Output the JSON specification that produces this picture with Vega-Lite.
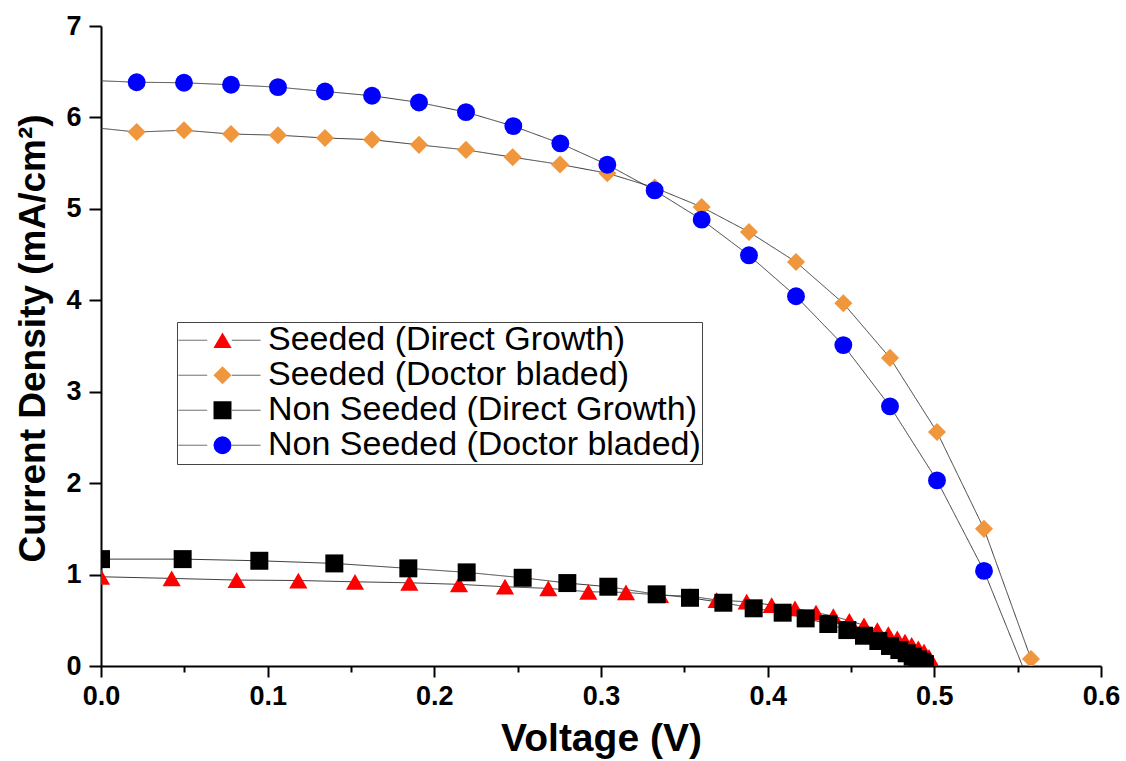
{
  "$schema": "https://vega.github.io/schema/vega-lite/v6.json",
  "width": 1000,
  "height": 640,
  "autosize": {"type": "none"},
  "padding": {"left": 101, "top": 26, "right": 25, "bottom": 95},
  "background": "white",
  "config": {"view": {"stroke": null}, "font": "Liberation Sans"},
  "data": {"values": [
    {"s": "Seeded (Direct Growth)", "v": 0.0, "j": 0.976},
    {"s": "Seeded (Direct Growth)", "v": 0.0424, "j": 0.958},
    {"s": "Seeded (Direct Growth)", "v": 0.0814, "j": 0.94},
    {"s": "Seeded (Direct Growth)", "v": 0.1184, "j": 0.935},
    {"s": "Seeded (Direct Growth)", "v": 0.1524, "j": 0.921},
    {"s": "Seeded (Direct Growth)", "v": 0.185, "j": 0.91},
    {"s": "Seeded (Direct Growth)", "v": 0.2148, "j": 0.893},
    {"s": "Seeded (Direct Growth)", "v": 0.2424, "j": 0.867},
    {"s": "Seeded (Direct Growth)", "v": 0.2684, "j": 0.849},
    {"s": "Seeded (Direct Growth)", "v": 0.2924, "j": 0.812},
    {"s": "Seeded (Direct Growth)", "v": 0.315, "j": 0.805},
    {"s": "Seeded (Direct Growth)", "v": 0.3354, "j": 0.775},
    {"s": "Seeded (Direct Growth)", "v": 0.3534, "j": 0.765},
    {"s": "Seeded (Direct Growth)", "v": 0.3694, "j": 0.721},
    {"s": "Seeded (Direct Growth)", "v": 0.3874, "j": 0.703},
    {"s": "Seeded (Direct Growth)", "v": 0.4024, "j": 0.667},
    {"s": "Seeded (Direct Growth)", "v": 0.4164, "j": 0.631},
    {"s": "Seeded (Direct Growth)", "v": 0.429, "j": 0.583},
    {"s": "Seeded (Direct Growth)", "v": 0.4394, "j": 0.546},
    {"s": "Seeded (Direct Growth)", "v": 0.449, "j": 0.495},
    {"s": "Seeded (Direct Growth)", "v": 0.4578, "j": 0.445},
    {"s": "Seeded (Direct Growth)", "v": 0.4658, "j": 0.393},
    {"s": "Seeded (Direct Growth)", "v": 0.4724, "j": 0.35},
    {"s": "Seeded (Direct Growth)", "v": 0.4778, "j": 0.303},
    {"s": "Seeded (Direct Growth)", "v": 0.4824, "j": 0.266},
    {"s": "Seeded (Direct Growth)", "v": 0.4864, "j": 0.23},
    {"s": "Seeded (Direct Growth)", "v": 0.4904, "j": 0.194},
    {"s": "Seeded (Direct Growth)", "v": 0.4938, "j": 0.157},
    {"s": "Seeded (Direct Growth)", "v": 0.4968, "j": 0.1},
    {"s": "Seeded (Direct Growth)", "v": 0.4996, "j": 0.01},
    {"s": "Seeded (Doctor bladed)", "v": -0.008, "j": 5.896},
    {"s": "Seeded (Doctor bladed)", "v": 0.0214, "j": 5.84},
    {"s": "Seeded (Doctor bladed)", "v": 0.0498, "j": 5.86},
    {"s": "Seeded (Doctor bladed)", "v": 0.078, "j": 5.818},
    {"s": "Seeded (Doctor bladed)", "v": 0.1062, "j": 5.806},
    {"s": "Seeded (Doctor bladed)", "v": 0.1344, "j": 5.775},
    {"s": "Seeded (Doctor bladed)", "v": 0.1626, "j": 5.757},
    {"s": "Seeded (Doctor bladed)", "v": 0.1908, "j": 5.7},
    {"s": "Seeded (Doctor bladed)", "v": 0.219, "j": 5.645},
    {"s": "Seeded (Doctor bladed)", "v": 0.247, "j": 5.565},
    {"s": "Seeded (Doctor bladed)", "v": 0.2754, "j": 5.486},
    {"s": "Seeded (Doctor bladed)", "v": 0.3038, "j": 5.39},
    {"s": "Seeded (Doctor bladed)", "v": 0.3322, "j": 5.232},
    {"s": "Seeded (Doctor bladed)", "v": 0.3604, "j": 5.02},
    {"s": "Seeded (Doctor bladed)", "v": 0.3888, "j": 4.747},
    {"s": "Seeded (Doctor bladed)", "v": 0.417, "j": 4.419},
    {"s": "Seeded (Doctor bladed)", "v": 0.4454, "j": 3.967},
    {"s": "Seeded (Doctor bladed)", "v": 0.4734, "j": 3.37},
    {"s": "Seeded (Doctor bladed)", "v": 0.5016, "j": 2.56},
    {"s": "Seeded (Doctor bladed)", "v": 0.5298, "j": 1.5},
    {"s": "Seeded (Doctor bladed)", "v": 0.558, "j": 0.077},
    {"s": "Non Seeded (Direct Growth)", "v": 0.0, "j": 1.169},
    {"s": "Non Seeded (Direct Growth)", "v": 0.049, "j": 1.169},
    {"s": "Non Seeded (Direct Growth)", "v": 0.095, "j": 1.151},
    {"s": "Non Seeded (Direct Growth)", "v": 0.14, "j": 1.122},
    {"s": "Non Seeded (Direct Growth)", "v": 0.1844, "j": 1.068},
    {"s": "Non Seeded (Direct Growth)", "v": 0.2194, "j": 1.024},
    {"s": "Non Seeded (Direct Growth)", "v": 0.253, "j": 0.965},
    {"s": "Non Seeded (Direct Growth)", "v": 0.2798, "j": 0.907},
    {"s": "Non Seeded (Direct Growth)", "v": 0.3044, "j": 0.867},
    {"s": "Non Seeded (Direct Growth)", "v": 0.3334, "j": 0.784},
    {"s": "Non Seeded (Direct Growth)", "v": 0.3534, "j": 0.746},
    {"s": "Non Seeded (Direct Growth)", "v": 0.3734, "j": 0.692},
    {"s": "Non Seeded (Direct Growth)", "v": 0.3916, "j": 0.631},
    {"s": "Non Seeded (Direct Growth)", "v": 0.409, "j": 0.583},
    {"s": "Non Seeded (Direct Growth)", "v": 0.4228, "j": 0.521},
    {"s": "Non Seeded (Direct Growth)", "v": 0.4364, "j": 0.459},
    {"s": "Non Seeded (Direct Growth)", "v": 0.4478, "j": 0.393},
    {"s": "Non Seeded (Direct Growth)", "v": 0.4578, "j": 0.331},
    {"s": "Non Seeded (Direct Growth)", "v": 0.4664, "j": 0.273},
    {"s": "Non Seeded (Direct Growth)", "v": 0.4734, "j": 0.219},
    {"s": "Non Seeded (Direct Growth)", "v": 0.479, "j": 0.175},
    {"s": "Non Seeded (Direct Growth)", "v": 0.4834, "j": 0.139},
    {"s": "Non Seeded (Direct Growth)", "v": 0.487, "j": 0.102},
    {"s": "Non Seeded (Direct Growth)", "v": 0.49, "j": 0.073},
    {"s": "Non Seeded (Direct Growth)", "v": 0.4924, "j": 0.047},
    {"s": "Non Seeded (Direct Growth)", "v": 0.4944, "j": 0.02},
    {"s": "Non Seeded (Doctor bladed)", "v": -0.008, "j": 6.406},
    {"s": "Non Seeded (Doctor bladed)", "v": 0.0214, "j": 6.385},
    {"s": "Non Seeded (Doctor bladed)", "v": 0.0498, "j": 6.379},
    {"s": "Non Seeded (Doctor bladed)", "v": 0.078, "j": 6.357},
    {"s": "Non Seeded (Doctor bladed)", "v": 0.1062, "j": 6.331},
    {"s": "Non Seeded (Doctor bladed)", "v": 0.1344, "j": 6.284},
    {"s": "Non Seeded (Doctor bladed)", "v": 0.1626, "j": 6.237},
    {"s": "Non Seeded (Doctor bladed)", "v": 0.1908, "j": 6.164},
    {"s": "Non Seeded (Doctor bladed)", "v": 0.219, "j": 6.058},
    {"s": "Non Seeded (Doctor bladed)", "v": 0.2474, "j": 5.905},
    {"s": "Non Seeded (Doctor bladed)", "v": 0.2756, "j": 5.716},
    {"s": "Non Seeded (Doctor bladed)", "v": 0.3038, "j": 5.483},
    {"s": "Non Seeded (Doctor bladed)", "v": 0.3322, "j": 5.202},
    {"s": "Non Seeded (Doctor bladed)", "v": 0.3604, "j": 4.882},
    {"s": "Non Seeded (Doctor bladed)", "v": 0.3888, "j": 4.492},
    {"s": "Non Seeded (Doctor bladed)", "v": 0.417, "j": 4.044},
    {"s": "Non Seeded (Doctor bladed)", "v": 0.4454, "j": 3.51},
    {"s": "Non Seeded (Doctor bladed)", "v": 0.4734, "j": 2.84},
    {"s": "Non Seeded (Doctor bladed)", "v": 0.5016, "j": 2.03},
    {"s": "Non Seeded (Doctor bladed)", "v": 0.5298, "j": 1.04},
    {"s": "Non Seeded (Doctor bladed)", "v": 0.56, "j": -0.32}
  ]},
  "encoding": {
    "x": {
      "field": "v", "type": "quantitative",
      "scale": {"domain": [0, 0.6], "nice": false, "zero": false},
      "axis": {
        "title": "Voltage (V)",
        "titleFont": "Liberation Sans", "titleFontSize": 39, "titleFontWeight": "bold", "titleColor": "#000",
        "titlePadding": 10,
        "values": [0, 0.05, 0.1, 0.15, 0.2, 0.25, 0.3, 0.35, 0.4, 0.45, 0.5, 0.55, 0.6],
        "labelExpr": "round(datum.value*20) % 2 == 0 ? format(datum.value, '.1f') : ''",
        "labelFont": "Liberation Sans", "labelFontSize": 27, "labelFontWeight": "bold", "labelColor": "#000",
        "labelPadding": 6, "labelOverlap": false, "labelFlush": false,
        "tickSize": {"condition": {"test": "round(datum.value*20) % 2 == 0", "value": 11}, "value": 6},
        "tickWidth": 2, "tickColor": "#000",
        "domainColor": "#000", "domainWidth": 2, "grid": false
      }
    },
    "y": {
      "field": "j", "type": "quantitative",
      "scale": {"domain": [0, 7], "nice": false, "zero": false},
      "axis": {
        "title": "Current Density (mA/cm²)",
        "titleFont": "Liberation Sans", "titleFontSize": 37, "titleFontWeight": "bold", "titleColor": "#000",
        "titlePadding": 13, "titleY": 312,
        "values": [0, 1, 2, 3, 4, 5, 6, 7], "format": "d",
        "labelFont": "Liberation Sans", "labelFontSize": 27, "labelFontWeight": "bold", "labelColor": "#000",
        "labelPadding": 8, "labelFlush": false,
        "tickSize": 12, "tickWidth": 2, "tickColor": "#000",
        "domainColor": "#000", "domainWidth": 2, "grid": false
      }
    }
  },
  "layer": [
    {
      "mark": {"type": "line", "color": "#3a3a3a", "strokeWidth": 1, "clip": true},
      "encoding": {
        "strokeDash": {
          "field": "s", "type": "nominal", "sort": null,
          "scale": {"range": [[1, 0], [1, 0], [1, 0], [1, 0]]},
          "legend": {
            "orient": "none", "legendX": 76, "legendY": 296, "title": null,
            "symbolType": "M-1,0H-0.3M0.3,0H1", "symbolSize": 6724,
            "symbolStrokeColor": "#555", "symbolStrokeWidth": 1,
            "clipHeight": 34.5, "rowPadding": 0, "padding": 1,
            "labelOffset": 6, "labelExpr": "''",
            "labelFont": "Liberation Sans", "labelFontSize": 34, "labelLimit": 0
          }
        }
      }
    },
    {
      "mark": {"type": "point", "filled": true, "opacity": 1, "clip": true},
      "encoding": {
        "color": {
          "field": "s", "type": "nominal",
          "scale": {
            "domain": ["Seeded (Direct Growth)", "Seeded (Doctor bladed)", "Non Seeded (Direct Growth)", "Non Seeded (Doctor bladed)"],
            "range": ["#ff0000", "#f0963c", "#000000", "#0000ff"]
          },
          "legend": {
            "orient": "none", "legendX": 76, "legendY": 296, "title": null,
            "symbolSize": 180, "symbolStrokeWidth": 0, "symbolOffset": 27.5,
            "clipHeight": 34.5, "rowPadding": 0, "padding": 1,
            "labelOffset": 28.5, "labelColor": "#000",
            "labelFont": "Liberation Sans", "labelFontSize": 34, "labelLimit": 0,
            "strokeColor": "#444"
          }
        },
        "shape": {
          "field": "s", "type": "nominal",
          "scale": {
            "domain": ["Seeded (Direct Growth)", "Seeded (Doctor bladed)", "Non Seeded (Direct Growth)", "Non Seeded (Doctor bladed)"],
            "range": ["triangle-up", "diamond", "square", "circle"]
          },
          "legend": {
            "orient": "none", "legendX": 76, "legendY": 296, "title": null,
            "symbolSize": 180, "symbolStrokeWidth": 0, "symbolOffset": 27.5,
            "clipHeight": 34.5, "rowPadding": 0, "padding": 1,
            "labelOffset": 28.5, "labelColor": "#000",
            "labelFont": "Liberation Sans", "labelFontSize": 34, "labelLimit": 0,
            "strokeColor": "#444"
          }
        },
        "size": {
          "field": "s", "type": "nominal",
          "scale": {
            "domain": ["Seeded (Direct Growth)", "Seeded (Doctor bladed)", "Non Seeded (Direct Growth)", "Non Seeded (Doctor bladed)"],
            "range": [330, 320, 200, 220]
          },
          "legend": null
        }
      }
    }
  ]
}
